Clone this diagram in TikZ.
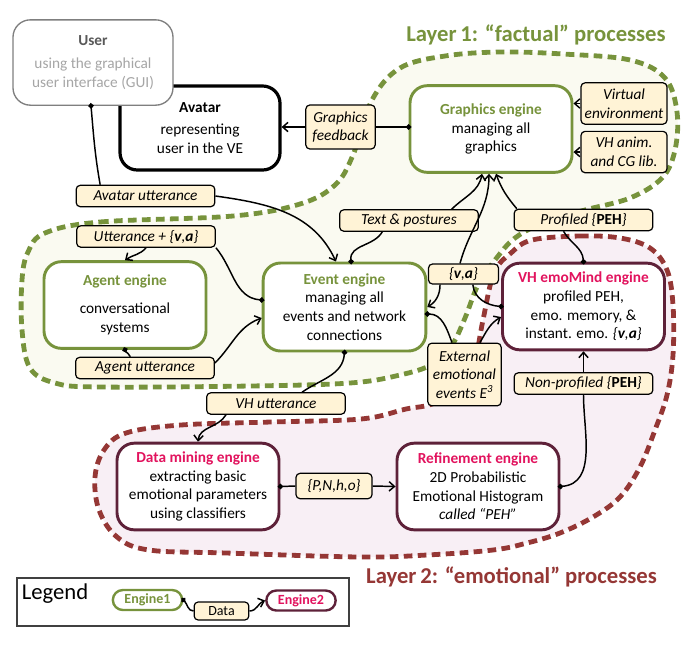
\documentclass[tikz,border=0pt]{standalone}
\usepackage{fontspec}
\setmainfont{Carlito}
\usepackage{tikz}
\usetikzlibrary{positioning,arrows.meta,backgrounds,calc}
\definecolor{palGreen}{HTML}{77933C}
\definecolor{palGreenLt}{HTML}{FAFAF1}
\definecolor{palRed}{HTML}{953735}
\definecolor{palRedLt}{HTML}{F8EFF5}
\definecolor{palPink}{HTML}{E2135E}
\definecolor{palPlum}{HTML}{5E2139}
\definecolor{palCream}{HTML}{FFF3D6}
\definecolor{palGray}{HTML}{7F7F7F}
\definecolor{palGrayLt}{HTML}{A6A6A6}
\definecolor{palGrayDk}{HTML}{595959}
\newcommand{\bodyfont}{\fontsize{11.5}{14}\selectfont}
\newcommand{\titlefont}{\fontsize{17}{20}\selectfont\bfseries}
\newcommand{\factname}[1]{\textcolor{palGreen}{\textbf{#1}}}
\newcommand{\emoname}[1]{\textcolor{palPink}{\textbf{#1}}}
\tikzset{
  engnode/.style={draw, fill=white, rounded corners=13pt, line width=2.2pt,
                  minimum width=121.5pt, minimum height=65pt, align=center,
                  font=\bodyfont, inner sep=2pt},
  factnode/.style={engnode, draw=palGreen},
  emonode/.style={engnode, draw=palPlum},
  datanode/.style={draw, fill=palCream, rounded corners=3pt, line width=0.9pt,
                   minimum width=104pt, minimum height=16pt, inner sep=1pt,
                   align=center, font=\bodyfont\itshape},
  legeng/.style={draw, fill=white, rounded corners=7.5pt, line width=1.8pt,
                 minimum width=52pt, minimum height=15pt, inner sep=1pt,
                 font=\fontsize{10.5}{12}\selectfont\bfseries},
  fromline/.style={line width=1.1pt, {Circle[length=4pt]}-, shorten <=-2pt},
  toline/.style={line width=1.1pt, -{Straight Barb[length=4pt,width=7pt]}},
  layerline/.style={dash pattern=on 6.5pt off 4pt, line width=3.6pt},
}
\begin{document}
\begin{tikzpicture}[x=0.75pt, y=-0.75pt]
\useasboundingbox (0,0) rectangle (700,644);
%% Layers
\begin{scope}[on background layer]
\filldraw[layerline, fill=palGreenLt, draw=palGreen] plot[smooth cycle, tension=0.6] coordinates {
  (45,233) (100,222) (233,216) (300,204) (335,185) (353,155) (372,100)
  (400,68) (445,56) (500,52) (563,54) (630,60) (665,78) (677,112)
  (675,150) (662,178) (630,198) (585,210) (545,222) (515,238) (495,260)
  (478,285) (465,318) (452,345) (433,364) (400,375) (350,383) (250,386)
  (100,387) (55,383) (30,368) (22,330) (22,280) (28,252)};
\filldraw[layerline, fill=palRedLt, draw=palRed] plot[smooth cycle, tension=0.6] coordinates {
  (532,240) (580,236) (620,238) (650,248) (667,270) (673,305) (673,355)
  (667,395) (655,430) (640,467) (620,497) (593,517) (560,533) (527,543)
  (493,550) (427,555) (360,557) (226,553) (149,550) (117,537) (99,510)
  (95,477) (104,450) (126,433) (181,425) (271,422) (361,419) (406,409)
  (432,404) (462,388) (475,360) (483,320) (494,273) (511,253)};
\end{scope}
%% Nodes
\node[facttitle/.style={}, font=\titlefont, text=palGreen] (facttitle) at (536,35) {Layer\,1: “factual” processes};
\node[font=\titlefont, text=palRed] (emotitle) at (511.5,577) {Layer\,2: “emotional” processes};
\node[engnode, draw=black, line width=2.4pt, minimum width=120pt, minimum height=63pt] (avatar) at (200,128)
  {\textbf{Avatar}\\[3pt]representing\\user in the VE};
\node[engnode, draw=palGray, line width=1pt, minimum width=120pt, minimum height=64pt, text=palGrayLt] (user) at (93,62.5)
  {\textcolor{palGrayDk}{\textbf{User}}\\[3pt]using the graphical\\user interface (GUI)};
\node[factnode] (graphics) at (491,129) {\factname{Graphics engine}\\managing all\\graphics};
\node[factnode] (agent) at (125,305) {\factname{Agent engine}\\[7pt]conversational\\systems};
\node[factnode, minimum width=122pt, minimum height=66pt] (event) at (344.5,307)
  {\factname{Event engine}\\managing all\\events and network\\connections};
\node[emonode] (emomind) at (583.5,306.5)
  {\emoname{VH emoMind engine}\\profiled PEH,\\emo. memory, \&\\instant. emo. \textit{\{\textbf{v},\textbf{a}\}}};
\node[emonode] (datamin) at (198,486.5)
  {\emoname{Data mining engine}\\extracting basic\\emotional parameters\\using classifiers};
\node[emonode] (refine) at (478,486.5)
  {\emoname{Refinement engine}\\2D Probabilistic\\Emotional Histogram\\\textit{called “PEH”}};
\node[datanode, minimum width=52pt, minimum height=33pt] (gfeed) at (340.5,127) {Graphics\\feedback};
\node[datanode, minimum width=64.5pt, minimum height=31pt] (virtenv) at (624,103.5) {Virtual\\environment};
\node[datanode, minimum width=64.5pt, minimum height=31pt, below=4.5pt of virtenv] (vhanim) {VH anim.\\and CG lib.};
\node[datanode] (avut) at (145.5,196) {Avatar utterance};
\node[datanode] (textpost) at (409,220.5) {Text \& postures};
\node[datanode] (profpeh) at (583.5,220) {Profiled \{\textbf{\upshape PEH}\}};
\node[datanode] (uttva) at (146,236.5) {Utterance + \{\textbf{v},\textbf{a}\}};
\node[datanode] (agut) at (145,368) {Agent utterance};
\node[datanode] (nonprof) at (583.5,383.5) {Non-profiled \{\textbf{\upshape PEH}\}};
\node[datanode] (vhut) at (276,403.5) {VH utterance};
\node[datanode, minimum width=52.5pt, minimum height=15pt] (va) at (463.5,274) {\{\textbf{v},\textbf{a}\}};
\node[datanode, minimum width=55pt, minimum height=47pt] (extev) at (464.5,374.5) {External\\emotional\\events E\textsuperscript{3}};
\node[datanode, minimum width=57pt, minimum height=19pt] (pnho) at (334,486) {\{P,N,h,o\}};
%% Edges
\draw[fromline] ([xshift=-1.5pt]user.south) to[out=-85,in=100] ([xshift=-34pt]avut.north);
\draw[toline] (avut.east) to[out=-8,in=115] ([xshift=-6.4pt]event.north);
\draw[fromline] (gfeed.east -| graphics.west) -- (gfeed.east);
\draw[toline] (gfeed.west) -- (gfeed.west -| avatar.east);
\draw[toline] (virtenv.west) -- (virtenv.west -| graphics.east);
\draw[toline] (vhanim.west) -- (vhanim.west -| graphics.east);
\draw[fromline] ([xshift=4.9pt]event.north) to[out=95,in=-120] ([xshift=-20pt]textpost.south);
\draw[toline] ([xshift=32pt]textpost.north) to[out=45,in=-100] ([xshift=-6.75pt]graphics.south);
\draw[toline] ([xshift=-2.6pt]va.north) to[out=75,in=-90] ([xshift=-1.5pt]graphics.south);
\draw[toline] ([xshift=-17.6pt]va.south) to[out=-90,in=30] (event.east);
\draw[fromline] (emomind.west) to[out=175,in=-85] ([xshift=7pt]va.south);
\draw[fromline] (emomind.north) to[out=95,in=-60] ([xshift=-15pt]profpeh.south);
\draw[toline] ([xshift=-50pt]profpeh.north) to[out=130,in=-70] ([xshift=3.75pt]graphics.south);
\draw[fromline] ([yshift=5.25pt]event.west) to[out=175,in=-50] (uttva.south east);
\draw[toline] (uttva.south) to[out=-130,in=35] (agent.north);
\draw[fromline] (agent.south) to[out=-70,in=100] ([xshift=-11pt]agut.north);
\draw[toline] ([yshift=3.75pt]agut.east) to[out=45,in=200] ([yshift=-8.25pt]event.west);
\draw[fromline] (event.south) to[out=-95,in=35] ([xshift=19.5pt]vhut.north);
\draw[toline] ([xshift=-37.5pt]vhut.south) to[out=-120,in=85] (datamin.north);
\draw[fromline] ([yshift=-5.25pt]event.east) to[out=0,in=110] ([xshift=-9.4pt]extev.north);
\draw[toline] ([xshift=11.6pt]extev.north) to[out=60,in=210] ([yshift=-7.9pt]emomind.west);
\draw[fromline] (datamin.east) -- (pnho.west);
\draw[toline] (pnho.east) -- (refine.west);
\draw[fromline] (refine.east) to[out=5,in=-90] (nonprof.south);
\draw[toline] (nonprof.north) -- (emomind.south);
%% Legend
\node[draw=black!75, line width=0.8pt, minimum width=249pt, minimum height=36pt] (legbox) at (183,602) {};
\node[font=\fontsize{17}{20}\selectfont] (legtitle) at (55,594) {Legend};
\node[legeng, draw=palGreen, text=palGreen] (legfact) at (147.5,600) {Engine1};
\node[legeng, draw=palPlum, text=palPink] (legemo) at (301,600.5) {Engine2};
\node[datanode, font=\fontsize{10.5}{12}\selectfont, minimum width=41pt, minimum height=13.5pt] (legdata) at (221.5,611) {Data};
\draw[fromline] (legfact.east) to[out=-45,in=180] (legdata.west);
\draw[toline] (legdata.east) to[out=0,in=200] (legemo.west);
\end{tikzpicture}
\end{document}
